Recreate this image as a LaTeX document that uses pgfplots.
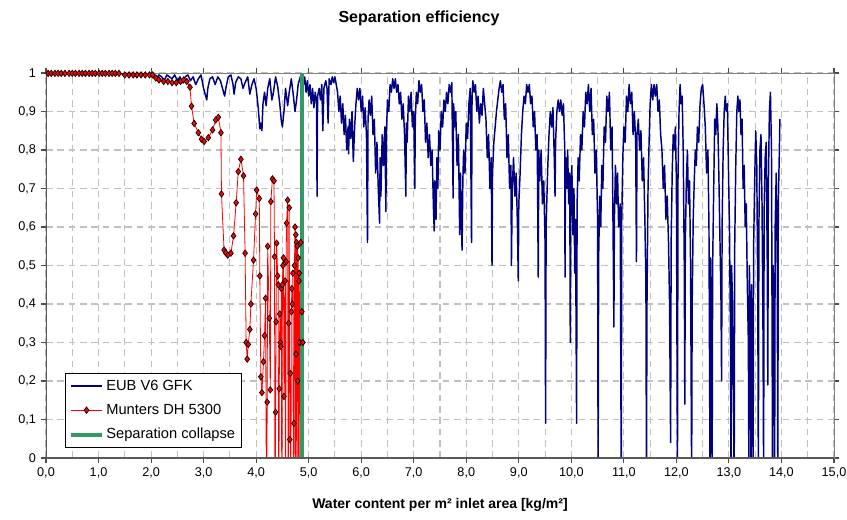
\documentclass[border=0pt]{standalone}
\usepackage{fontspec}
\setmainfont{Liberation Sans}
\usepackage{pgfplots}
\pgfplotsset{compat=1.18}

\definecolor{eub}{RGB}{0,0,128}
\definecolor{collapse}{RGB}{51,153,102}
\definecolor{gridgray}{RGB}{192,192,192}

\begin{document}
\begin{tikzpicture}
\begin{axis}[
  at={(0,0)}, anchor=south west,
  scale only axis,
  width=591pt, height=288.75pt,
  xmin=0, xmax=15, ymin=0, ymax=1,
  xtick={0,1,2,3,4,5,6,7,8,9,10,11,12,13,14,15},
  minor xtick={0.5,1.5,2.5,3.5,4.5,5.5,6.5,7.5,8.5,9.5,10.5,11.5,12.5,13.5,14.5},
  ytick={0,0.1,0.2,0.3,0.4,0.5,0.6,0.7,0.8,0.9,1},
  grid=both,
  major grid style={gridgray, dash pattern=on 5pt off 3.5pt, line width=0.8pt},
  minor grid style={gridgray, dash pattern=on 5pt off 3.5pt, line width=0.8pt},
  tick align=outside,
  major tick length=4pt, minor tick length=0pt,
  tick style={black!70, line width=0.8pt},
  axis line style={black!50, line width=0.6pt},
  /pgf/number format/assume math mode=true,
  xticklabel style={/pgf/number format/.cd, fixed, fixed zerofill, precision=1, use comma},
  yticklabel style={/pgf/number format/.cd, fixed, precision=1, use comma},
  ticklabel style={font=\fontsize{9.5}{11}\selectfont},
  xlabel={Water content per m² inlet area [kg/m²]},
  xlabel style={at={(axis description cs:0.5,0)}, anchor=center, yshift=-35.25pt,
    font=\bfseries\fontsize{10.5}{12}\selectfont},
  legend cell align=left,
  legend style={at={(0.024,0.026)}, anchor=south west, draw=black, line width=0.6pt,
    font=\fontsize{11}{13}\selectfont, row sep=5pt, inner sep=3pt,
    nodes={inner sep=2pt}},
  legend image code/.code={\draw[mark repeat=2,mark phase=2,#1] plot coordinates {(0cm,0cm) (0.4cm,0cm) (0.8cm,0cm)};},
]

% EUB V6 GFK
\addplot[eub, line width=1.1pt, line join=round] table {
x y
0.00 1.000
0.20 0.999
0.40 1.000
0.60 0.999
0.80 1.000
1.00 0.999
1.20 1.000
1.40 0.998
1.60 0.999
1.80 0.997
2.00 0.995
2.05 0.990
2.10 0.985
2.15 0.995
2.20 0.990
2.25 0.980
2.30 0.995
2.35 0.990
2.40 0.985
2.45 0.995
2.50 0.980
2.55 0.990
2.60 0.975
2.65 0.990
2.70 0.995
2.75 0.980
2.80 0.990
2.85 0.970
2.90 0.985
2.95 0.995
3.00 0.960
3.04 0.940
3.06 0.930
3.08 0.960
3.12 0.985
3.17 0.990
3.22 0.970
3.27 0.990
3.32 0.980
3.36 0.960
3.40 0.940
3.43 0.965
3.47 0.990
3.52 0.995
3.56 0.970
3.58 0.945
3.61 0.975
3.66 0.990
3.71 0.985
3.75 0.960
3.79 0.975
3.84 0.990
3.88 0.945
3.92 0.970
3.96 0.985
4.00 0.960
4.04 0.910
4.07 0.855
4.09 0.870
4.11 0.850
4.13 0.920
4.16 0.950
4.19 0.915
4.22 0.960
4.26 0.985
4.30 0.930
4.33 0.950
4.37 0.990
4.41 0.965
4.45 0.920
4.48 0.875
4.50 0.860
4.53 0.900
4.56 0.960
4.60 0.915
4.63 0.950
4.67 0.985
4.71 0.940
4.74 0.900
4.77 0.930
4.80 0.970
4.84 0.990
4.875 0.995
4.90 0.970
4.925 0.990
4.95 0.950
4.975 0.980
5.00 0.940
5.025 0.970
5.05 0.920
5.075 0.960
5.10 0.910
5.125 0.950
5.15 0.920
5.16 0.680
5.17 0.940
5.20 0.960
5.225 0.930
5.25 0.970
5.27 0.850
5.29 0.960
5.325 0.980
5.35 0.960
5.37 0.870
5.39 0.985
5.425 0.970
5.45 0.990
5.475 0.975
5.50 0.990
5.525 0.970
5.55 0.950
5.575 0.900
5.60 0.940
5.625 0.870
5.65 0.920
5.675 0.840
5.70 0.890
5.725 0.800
5.75 0.860
5.76 0.790
5.775 0.880
5.80 0.830
5.825 0.900
5.85 0.770
5.875 0.860
5.90 0.920
5.925 0.960
5.95 0.930
5.975 0.960
6.00 0.900
6.025 0.940
6.05 0.860
6.075 0.910
6.10 0.840
6.12 0.560
6.13 0.880
6.15 0.930
6.175 0.890
6.20 0.940
6.225 0.840
6.25 0.880
6.275 0.740
6.30 0.820
6.325 0.700
6.35 0.610
6.36 0.780
6.375 0.680
6.40 0.840
6.425 0.760
6.45 0.860
6.47 0.640
6.48 0.840
6.50 0.930
6.525 0.900
6.55 0.970
6.575 0.950
6.60 0.985
6.625 0.960
6.65 0.985
6.675 0.950
6.70 0.970
6.725 0.920
6.75 0.950
6.775 0.880
6.80 0.920
6.825 0.840
6.85 0.680
6.86 0.870
6.875 0.820
6.90 0.940
6.925 0.900
6.95 0.950
6.975 0.860
7.00 0.900
7.02 0.700
7.03 0.880
7.05 0.950
7.075 0.920
7.10 0.980
7.125 0.950
7.15 0.970
7.175 0.900
7.20 0.930
7.225 0.820
7.25 0.870
7.275 0.780
7.30 0.840
7.325 0.760
7.35 0.800
7.375 0.650
7.39 0.590
7.40 0.720
7.425 0.620
7.44 0.780
7.46 0.700
7.475 0.850
7.50 0.800
7.525 0.900
7.55 0.860
7.575 0.930
7.60 0.900
7.625 0.950
7.65 0.920
7.675 0.970
7.70 0.950
7.725 0.975
7.75 0.675
7.76 0.920
7.775 0.860
7.80 0.900
7.825 0.760
7.85 0.840
7.875 0.580
7.89 0.740
7.90 0.660
7.92 0.540
7.935 0.720
7.95 0.800
7.975 0.740
8.00 0.870
8.025 0.830
8.05 0.920
8.075 0.960
8.10 0.560
8.11 0.940
8.125 0.980
8.15 0.950
8.175 0.970
8.20 0.900
8.225 0.940
8.25 0.870
8.275 0.920
8.30 0.890
8.325 0.960
8.35 0.920
8.375 0.880
8.40 0.780
8.425 0.840
8.45 0.700
8.475 0.780
8.49 0.500
8.50 0.740
8.525 0.820
8.55 0.860
8.575 0.900
8.60 0.930
8.625 0.960
8.65 0.980
8.675 0.950
8.70 0.970
8.725 0.880
8.75 0.920
8.775 0.780
8.80 0.840
8.825 0.700
8.85 0.760
8.86 0.500
8.875 0.700
8.90 0.780
8.925 0.680
8.95 0.740
8.975 0.600
8.99 0.460
9.00 0.660
9.025 0.740
9.05 0.840
9.075 0.900
9.10 0.940
9.125 0.920
9.15 0.970
9.175 0.950
9.20 0.970
9.225 0.920
9.25 0.940
9.275 0.860
9.30 0.900
9.325 0.800
9.35 0.840
9.37 0.470
9.38 0.800
9.40 0.720
9.425 0.800
9.45 0.660
9.475 0.720
9.50 0.560
9.51 0.090
9.52 0.600
9.55 0.750
9.575 0.840
9.60 0.900
9.625 0.860
9.65 0.910
9.675 0.780
9.69 0.680
9.70 0.820
9.725 0.900
9.75 0.930
9.775 0.900
9.80 0.930
9.825 0.890
9.85 0.920
9.875 0.800
9.88 0.470
9.89 0.780
9.91 0.700
9.93 0.800
9.95 0.660
9.97 0.740
9.98 0.300
9.99 0.660
10.01 0.760
10.03 0.580
10.05 0.700
10.065 0.480
10.08 0.620
10.10 0.090
10.11 0.660
10.13 0.780
10.15 0.720
10.175 0.840
10.20 0.800
10.225 0.900
10.25 0.860
10.275 0.950
10.30 0.920
10.325 0.970
10.35 0.900
10.375 0.960
10.40 0.840
10.425 0.880
10.45 0.740
10.475 0.800
10.50 0.620
10.51 -0.050
10.52 0.520
10.54 0.680
10.56 0.600
10.58 0.760
10.60 0.700
10.625 0.860
10.65 0.820
10.675 0.940
10.70 0.900
10.725 0.950
10.75 0.800
10.775 0.860
10.79 0.660
10.81 0.340
10.82 0.620
10.84 0.760
10.86 0.660
10.88 0.740
10.90 0.600
10.93 0.660
10.95 -0.050
10.96 0.620
10.98 0.780
11.00 0.860
11.025 0.820
11.05 0.940
11.075 0.900
11.10 0.970
11.125 0.920
11.15 0.950
11.175 0.840
11.20 0.900
11.225 0.820
11.24 0.510
11.25 0.840
11.275 0.880
11.30 0.800
11.325 0.850
11.35 0.720
11.375 0.780
11.40 0.620
11.42 0.450
11.43 -0.050
11.44 0.400
11.46 0.700
11.48 0.820
11.50 0.920
11.525 0.970
11.55 0.930
11.575 0.970
11.60 0.940
11.625 0.970
11.65 0.900
11.675 0.930
11.70 0.840
11.725 0.800
11.75 0.700
11.775 0.760
11.80 0.620
11.825 0.680
11.85 0.560
11.87 0.400
11.89 0.040
11.90 0.560
11.92 0.740
11.94 0.840
11.96 0.800
11.98 0.860
12.00 0.720
12.02 -0.050
12.03 0.720
12.05 0.900
12.07 0.970
12.09 0.920
12.11 0.940
12.13 0.800
12.15 0.500
12.16 0.140
12.17 0.560
12.19 0.720
12.21 0.800
12.23 0.660
12.25 0.720
12.27 0.500
12.29 -0.050
12.30 0.400
12.32 0.620
12.34 0.720
12.36 0.800
12.38 0.760
12.40 0.860
12.425 0.820
12.45 0.920
12.475 0.960
12.50 0.970
12.525 0.920
12.55 0.860
12.575 0.740
12.60 0.800
12.62 0.600
12.64 -0.050
12.65 0.520
12.66 0.400
12.68 -0.050
12.69 0.500
12.71 0.700
12.73 0.880
12.75 0.840
12.77 0.920
12.79 0.860
12.81 0.720
12.83 0.560
12.85 0.400
12.86 0.200
12.87 0.600
12.89 0.800
12.91 0.900
12.93 0.940
12.95 0.900
12.97 0.920
12.99 0.760
13.01 0.600
13.03 0.300
13.04 -0.050
13.05 0.500
13.07 0.400
13.08 0.200
13.10 -0.050
13.11 0.550
13.13 0.760
13.15 0.900
13.17 0.940
13.19 0.900
13.21 0.930
13.23 0.840
13.25 0.880
13.27 0.700
13.29 0.760
13.31 0.600
13.33 0.660
13.35 0.450
13.37 0.300
13.38 -0.050
13.39 0.500
13.41 0.300
13.42 -0.050
13.43 0.450
13.45 0.300
13.46 -0.050
13.47 0.550
13.49 0.720
13.51 0.850
13.53 0.760
13.55 0.400
13.56 -0.050
13.57 0.600
13.59 0.800
13.61 0.840
13.63 0.660
13.65 0.300
13.66 -0.050
13.67 0.640
13.69 0.780
13.71 0.820
13.73 0.500
13.74 0.190
13.75 0.700
13.77 0.900
13.79 0.950
13.81 0.800
13.82 0.400
13.83 -0.050
13.84 0.500
13.86 0.400
13.87 -0.050
13.88 0.600
13.90 0.740
13.92 0.500
13.93 -0.050
13.94 0.660
13.96 0.800
13.97 0.880
};
\addlegendentry{EUB V6 GFK}

% Munters DH 5300
\addplot[red, line width=0.6pt, mark=diamond*, mark size=2.4pt,
  mark options={fill=red, draw=black, line width=0.5pt}] table {
x y
0.04 0.999
0.10 0.999
0.17 0.999
0.23 0.999
0.29 0.999
0.36 0.999
0.44 0.999
0.50 0.999
0.56 0.999
0.63 0.999
0.69 0.999
0.75 0.999
0.82 0.999
0.88 0.999
0.94 0.999
1.01 0.999
1.07 0.999
1.13 0.999
1.20 0.999
1.26 0.999
1.32 0.999
1.39 0.999
1.50 0.995
1.58 0.995
1.66 0.995
1.73 0.995
1.81 0.995
1.89 0.995
1.97 0.995
2.03 0.995
2.09 0.987
2.15 0.982
2.24 0.978
2.32 0.978
2.40 0.975
2.48 0.975
2.56 0.978
2.62 0.982
2.68 0.978
2.74 0.963
2.77 0.914
2.82 0.869
2.90 0.845
2.96 0.828
3.01 0.822
3.09 0.832
3.17 0.852
3.23 0.878
3.28 0.885
3.33 0.845
3.34 0.686
3.39 0.540
3.42 0.533
3.46 0.527
3.52 0.532
3.57 0.577
3.62 0.663
3.66 0.744
3.71 0.776
3.76 0.733
3.79 0.532
3.81 0.300
3.83 0.257
3.85 0.295
3.88 0.334
3.90 0.400
3.95 0.514
3.99 0.634
4.01 0.696
4.06 0.674
4.07 0.473
4.09 0.211
4.11 0.170
4.14 0.250
4.16 0.318
4.18 0.415
4.20 -0.300
4.21 0.145
4.22 0.550
4.25 0.363
4.27 0.177
4.28 0.666
4.31 0.725
4.34 0.720
4.35 0.523
4.36 -0.300
4.37 0.119
4.38 0.354
4.39 0.558
4.41 0.473
4.42 0.450
4.43 -0.300
4.44 0.180
4.45 0.374
4.46 0.300
4.47 0.290
4.48 0.440
4.49 -0.300
4.50 0.450
4.51 0.500
4.52 0.520
4.53 0.160
4.55 0.460
4.56 -0.300
4.57 0.510
4.58 0.610
4.60 0.670
4.61 -0.300
4.62 0.350
4.63 0.650
4.64 0.048
4.65 0.220
4.66 -0.300
4.67 0.380
4.68 0.440
4.69 0.400
4.70 0.480
4.71 -0.300
4.72 0.090
4.73 0.500
4.74 0.600
4.75 -0.300
4.755 0.580
4.76 0.270
4.77 0.560
4.78 -0.300
4.785 0.550
4.79 0.200
4.80 0.520
4.81 -0.300
4.815 0.460
4.82 0.480
4.83 0.300
4.84 -0.300
4.85 0.560
4.87 0.380
4.89 0.300
};
\addlegendentry{Munters DH 5300}

% Separation collapse
\addplot[collapse, line width=3pt] coordinates {(4.87,0) (4.87,1)};
\addlegendentry{Separation collapse}

\draw[black!65, line width=1.4pt] (rel axis cs:0,1) -- (rel axis cs:0,0) -- (rel axis cs:1,0);
\end{axis}

\node[font=\bfseries\fontsize{12}{14}\selectfont] at (279.75pt,330pt) {Separation efficiency};

\pgfresetboundingbox
\path[use as bounding box] (-34.5pt,-45.75pt) rectangle (600.75pt,343.5pt);
\end{tikzpicture}
\end{document}
